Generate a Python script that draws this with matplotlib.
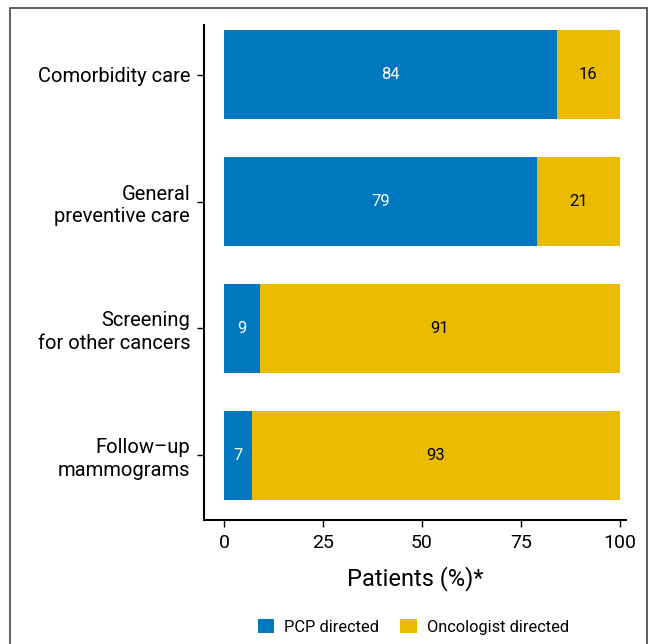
import matplotlib
matplotlib.use("Agg")
import matplotlib.pyplot as plt
from matplotlib.patches import Rectangle, Patch

plt.rcParams['font.family'] = ['Liberation Sans Narrow', 'Roboto', 'DejaVu Sans']

categories = ["Comorbidity care", "General\npreventive care",
              "Screening\nfor other cancers", "Follow\u2013up\nmammograms"]
pcp = [84, 79, 9, 7]
oncologist = [16, 21, 91, 93]
xticks = [0, 25, 50, 75, 100]

blue = "#0077BF"
yellow = "#EBBB00"

fig = plt.figure(figsize=(6.56, 6.44), dpi=100)
ax = fig.add_axes([0.311, 0.1925, 0.643, 0.7685])

ypos = [3, 2, 1, 0]
h = 0.70
ax.barh(ypos, pcp, height=h, color=blue, label="PCP directed")
ax.barh(ypos, oncologist, left=pcp, height=h, color=yellow, label="Oncologist directed")

for y, p, o in zip(ypos, pcp, oncologist):
    ax.text(p / 2, y, str(p), ha="center", va="center", color="white", fontsize=12)
    ax.text(p + o / 2, y, str(o), ha="center", va="center", color="black", fontsize=12)

ax.set_xlim(-5.05, 101.5)
ax.set_ylim(-0.51, 3.39)
ax.set_yticks(ypos)
ax.set_yticklabels(categories, fontsize=14.5, linespacing=1.25)
ax.set_xticks(xticks)
ax.set_xticklabels([str(t) for t in xticks], fontsize=14)
ax.set_xlabel("Patients (%)*", fontsize=17, labelpad=10)

for s in ["top", "right"]:
    ax.spines[s].set_visible(False)
for s in ["left", "bottom"]:
    ax.spines[s].set_linewidth(1.5)
ax.tick_params(axis="both", length=5, width=1.0, direction="out", pad=5)

handles = [Patch(facecolor=blue, label="PCP directed"),
           Patch(facecolor=yellow, label="Oncologist directed")]
fig.legend(handles=handles, loc="center", bbox_to_anchor=(0.63, 0.027), ncol=2,
           frameon=False, fontsize=11.8, handlelength=1.0, handleheight=1.0,
           columnspacing=1.3, handletextpad=0.6)

fig.patches.append(Rectangle((10 / 656, -0.05), (647 - 10) / 656, 1.05 - 8 / 644,
                             transform=fig.transFigure, fill=False,
                             edgecolor="#444444", linewidth=1.2))

fig.savefig("out.png", dpi=100)
